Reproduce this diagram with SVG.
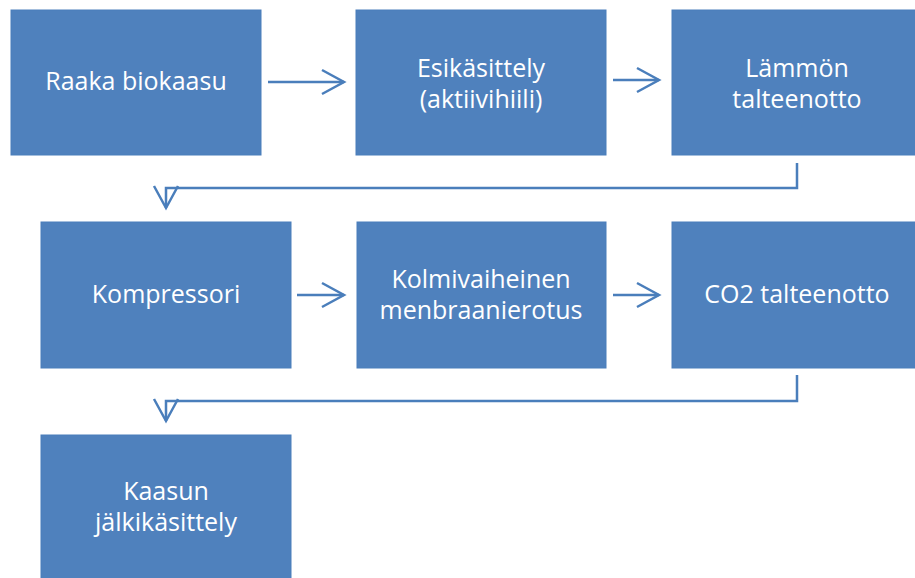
<svg xmlns="http://www.w3.org/2000/svg" width="915" height="578" viewBox="0 0 915 578">
<defs>
<style>
.box{fill:#4F81BD;stroke:#4A7EBB;stroke-width:1}
.lbl{font-family:"Open Sans","Noto Sans","Liberation Sans",sans-serif;font-size:25px;fill:#FFFFFF;text-anchor:middle}
.conn{fill:none;stroke:#4A7EBB;stroke-width:2.5;marker-end:url(#arr)}
</style>
<marker id="arr" markerUnits="userSpaceOnUse" markerWidth="30" markerHeight="30" viewBox="-25 -15 30 30" refX="0" refY="0" orient="auto">
<path d="M-22,-12 L0,0 L-22,12" fill="none" stroke="#4A7EBB" stroke-width="2.5"/>
</marker>
</defs>
<rect width="915" height="578" fill="#FFFFFF"/>
<g id="n1"><rect class="box" x="11" y="10" width="250" height="145"/><text class="lbl" x="136" y="90">Raaka biokaasu</text></g>
<g id="n2"><rect class="box" x="356" y="10" width="250" height="145"/><text class="lbl" x="481" y="77">Esikäsittely</text><text class="lbl" x="481" y="108">(aktiivihiili)</text></g>
<g id="n3"><rect class="box" x="672" y="10" width="250" height="145"/><text class="lbl" x="797" y="77">Lämmön</text><text class="lbl" x="797" y="108">talteenotto</text></g>
<g id="n4"><rect class="box" x="41" y="222" width="250" height="146"/><text class="lbl" x="166" y="303">Kompressori</text></g>
<g id="n5"><rect class="box" x="357" y="222" width="249" height="146"/><text class="lbl" x="481" y="288">Kolmivaiheinen</text><text class="lbl" x="481" y="319">menbraanierotus</text></g>
<g id="n6"><rect class="box" x="672" y="222" width="250" height="146"/><text class="lbl" x="797" y="303">CO2 talteenotto</text></g>
<g id="n7"><rect class="box" x="41" y="435" width="250" height="150"/><text class="lbl" x="166" y="500">Kaasun</text><text class="lbl" x="166" y="531">jälkikäsittely</text></g>
<g id="connectors">
<path class="conn" d="M268,82 H344"/>
<path class="conn" d="M613,80 H659"/>
<path class="conn" d="M797,163 V188 H166 V208"/>
<path class="conn" d="M297,295 H344"/>
<path class="conn" d="M613,295 H659"/>
<path class="conn" d="M797,375 V401 H166 V421"/>
</g>
</svg>
